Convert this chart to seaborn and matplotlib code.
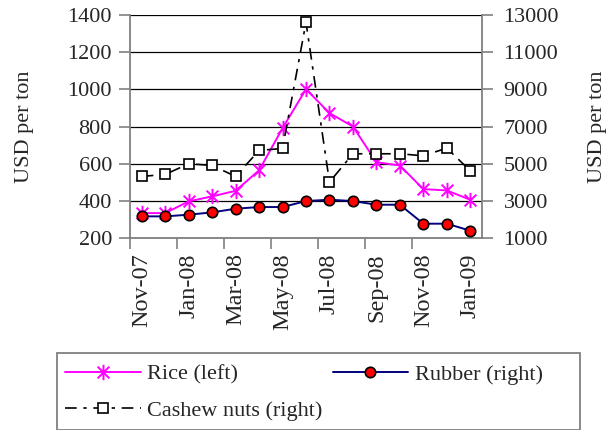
import matplotlib
matplotlib.use("Agg")
import matplotlib.pyplot as plt
from matplotlib.path import Path
from matplotlib.patches import Rectangle
import seaborn as sns
import numpy as np

months = ["Nov-07", "Dec-07", "Jan-08", "Feb-08", "Mar-08", "Apr-08", "May-08", "Jun-08",
          "Jul-08", "Aug-08", "Sep-08", "Oct-08", "Nov-08", "Dec-08", "Jan-09"]
rice = [334, 334, 397, 424, 454, 564, 791, 1001, 872, 800, 608, 590, 463, 456, 406]
rubber = [2164, 2164, 2254, 2379, 2576, 2666, 2666, 2988, 3060, 2988, 2791, 2791, 1770, 1770, 1394]
cashew = [4314, 4421, 4994, 4905, 4314, 5711, 5818, 12606, 4009, 5532, 5532, 5532, 5424, 5836, 4618]
left_ticks = [200, 400, 600, 800, 1000, 1200, 1400]
right_ticks = [1000, 3000, 5000, 7000, 9000, 11000, 13000]

sns.set_theme(style="white")
plt.rcParams["font.family"] = ["Liberation Serif", "DejaVu Serif"]
plt.rcParams["font.size"] = 16

grey = "#808080"
pos = np.arange(len(months))

# excel-like asterisk: an X plus a vertical bar
star = Path([(-1, -1), (1, 1), (-1, 1), (1, -1), (0, -1.3), (0, 1.3)],
            [Path.MOVETO, Path.LINETO, Path.MOVETO, Path.LINETO, Path.MOVETO, Path.LINETO])

fig = plt.figure(figsize=(6.13, 4.30), dpi=100)
ax = fig.add_axes([130 / 613, 1 - 238 / 430, 352 / 613, 223 / 430])
ax2 = ax.twinx()

sns.lineplot(x=pos, y=rice, ax=ax, color="#ff00ff", linewidth=1.4, marker=star,
             markersize=11, markeredgecolor="#ff00ff", markeredgewidth=1.4,
             label="Rice (left)", legend=False)
sns.lineplot(x=pos, y=cashew, ax=ax2, color="black", linewidth=1.2, marker="s",
             markersize=7.5, markerfacecolor="white", markeredgecolor="black",
             markeredgewidth=1.2, label="Cashew nuts (right)", legend=False)
sns.lineplot(x=pos, y=rubber, ax=ax2, color="#000080", linewidth=1.4, marker="o",
             markersize=7.5, markerfacecolor="red", markeredgecolor="black",
             markeredgewidth=1.2, label="Rubber (right)", legend=False)
ax2.get_lines()[0].set_dashes((7, 4, 2, 4))

ax.set_xlim(-0.5, len(months) - 0.5)
ax.set_ylim(200, 1400)
ax2.set_ylim(1000, 13000)
ax.set_yticks(left_ticks)
ax2.set_yticks(right_ticks)
ax.set_xticks(pos[::2])
ax.set_xticklabels(months[::2], rotation=90)
ax.set_xticks(pos[:-1:2] - 0.5, minor=True)

ax.grid(axis="y", color="black", linewidth=0.9)
ax.set_axisbelow(True)
for a in (ax, ax2):
    for s in a.spines.values():
        s.set_color(grey)
        s.set_linewidth(1.3)
    a.spines["top"].set_visible(False)
ax.spines["right"].set_visible(False)
ax2.spines["left"].set_visible(False)
ax2.spines["bottom"].set_visible(False)

ax.tick_params(axis="y", left=True, length=8, width=1.2, color=grey, pad=5, labelsize=16)
ax2.tick_params(axis="y", right=True, length=8, width=1.2, color=grey, pad=7.5, labelsize=16)
ax.tick_params(axis="x", which="major", bottom=True, length=0, pad=11, labelsize=17.5)
ax.tick_params(axis="x", which="minor", bottom=True, length=8, width=1.2, color=grey)
ax.set_ylabel("USD per ton", fontsize=16, labelpad=24)
ax2.set_ylabel("USD per ton", fontsize=16, labelpad=21)
ax.set_xlabel("")

h1, l1 = ax.get_legend_handles_labels()
h2, l2 = ax2.get_legend_handles_labels()
hd = dict(zip(l1 + l2, h1 + h2))
order = ["Rice (left)", "Cashew nuts (right)", "Rubber (right)"]
leg = fig.legend([hd[k] for k in order], order, loc="upper left",
                 bbox_to_anchor=(54 / 613, 1 - 353 / 430), ncol=2, fontsize=16,
                 frameon=False, borderaxespad=0, borderpad=0.5, handlelength=3.4,
                 handletextpad=0.3, labelspacing=0.72, columnspacing=0.45)
# legend box, wider than its entries as in the original
fig.patches.append(Rectangle((57 / 613, 0), 523 / 613, 1 - 353 / 430, transform=fig.transFigure,
                             fill=False, edgecolor=grey, linewidth=1.3))

fig.savefig("out.png", dpi=100)
